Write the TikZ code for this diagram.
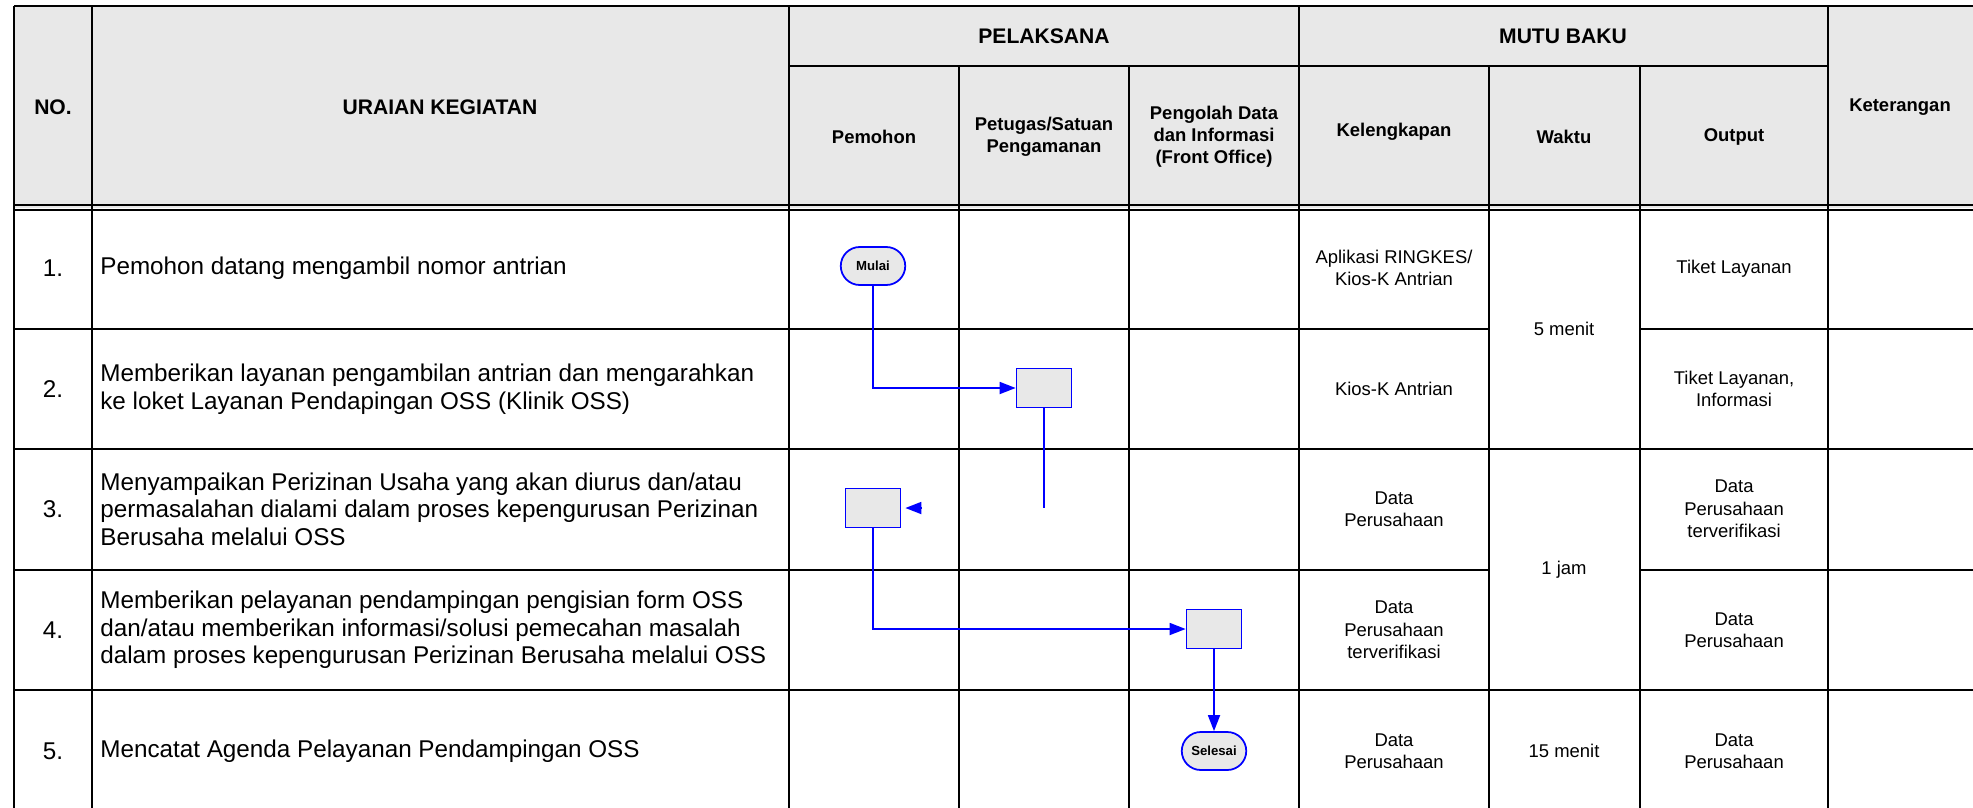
\documentclass[tikz,border=0pt]{standalone}
\usepackage{fontspec}
\setmainfont{Liberation Sans}
\usetikzlibrary{arrows.meta,shapes.misc}

\definecolor{hdrgray}{HTML}{E8E8E8}
\definecolor{flowblue}{HTML}{0000FF}

\tikzset{
  grid/.style={line width=1.2pt},
  hdrbig/.style={font=\bfseries\fontsize{12}{14}\selectfont, align=center},
  hdrsub/.style={font=\bfseries\fontsize{10.5}{12.5}\selectfont, align=center},
  cell/.style={font=\fontsize{10.5}{12.8}\selectfont, align=center},
  uraian/.style={font=\fontsize{13.8}{15.7}\selectfont, align=left, anchor=west, inner xsep=0pt},
  nomor/.style={font=\fontsize{13.8}{15.7}\selectfont},
  proc/.style={draw=flowblue, fill=hdrgray, line width=1pt, minimum width=11mm, minimum height=7.8mm},
  term/.style={draw=flowblue, fill=hdrgray, line width=1pt, rounded rectangle,
    minimum width=13.6mm, minimum height=7.6mm, inner sep=1pt, font=\bfseries\fontsize{7.5}{8.5}\selectfont},
  flow/.style={draw=flowblue, line width=1pt},
  arr/.style={flow, -{Triangle[length=3.2mm,width=2.4mm]}},
}

\begin{document}
\begin{tikzpicture}[x=0.2mm,y=-0.2mm]
  \useasboundingbox (0,0) rectangle (1973,808);

  % Header background
  \fill[hdrgray] (14,6) rectangle (1973,208);

  % Horizontal lines
  \draw[grid] (14,6) -- (1973,6);
  \draw[grid] (789,66) -- (1828,66);
  \draw[grid, line width=0.8pt] (14,205) -- (1973,205);
  \draw[grid, line width=0.8pt] (14,210) -- (1973,210);
  \foreach \y in {449,690} {
    \draw[grid] (14,\y) -- (1973,\y);
  }
  % Waktu cells span two rows
  \foreach \y in {329,570} {
    \draw[grid] (14,\y) -- (1489,\y);
    \draw[grid] (1640,\y) -- (1973,\y);
  }

  % Vertical lines
  \foreach \x in {14,92,789,1299,1828} {
    \draw[grid] (\x,6) -- (\x,808);
  }
  \foreach \x in {959,1129,1489,1640} {
    \draw[grid] (\x,66) -- (\x,808);
  }

  % Header texts
  \node[hdrbig] (hno) at (53,107) {NO.};
  \node[hdrbig] (huraian) at (440,107) {URAIAN KEGIATAN};
  \node[hdrbig] (hpelaksana) at (1044,36) {PELAKSANA};
  \node[hdrbig] (hmutu) at (1563,36) {MUTU BAKU};
  \node[hdrsub] (hpemohon) at (874,137) {Pemohon};
  \node[hdrsub] (hpetugas) at (1044,137) {Petugas/Satuan\\Pengamanan};
  \node[hdrsub] (hpengolah) at (1214,137) {Pengolah Data\\dan Informasi\\(Front Office)};
  \node[hdrsub] (hkelengkapan) at (1394,132) {Kelengkapan};
  \node[hdrsub] (hwaktu) at (1564,137) {Waktu};
  \node[hdrsub] (houtput) at (1734,137) {Output};
  \node[hdrsub] (hket) at (1900,107) {Keterangan};

  % Row numbers
  \foreach \n/\y in {1/268,2/389,3/509,4/630,5/751} {
    \node[nomor] (no\n) at (53,\y) {\n.};
  }

  % Uraian kegiatan
  \node[uraian] (ur1) at (100,268) {Pemohon datang mengambil nomor antrian};
  \node[uraian] (ur2) at (100,389) {Memberikan layanan pengambilan antrian dan mengarahkan\\ke loket Layanan Pendapingan OSS (Klinik OSS)};
  \node[uraian] (ur3) at (100,509) {Menyampaikan Perizinan Usaha yang akan diurus dan/atau\\permasalahan dialami dalam proses kepengurusan Perizinan\\Berusaha melalui OSS};
  \node[uraian] (ur4) at (100,630) {Memberikan pelayanan pendampingan pengisian form OSS\\dan/atau memberikan informasi/solusi pemecahan masalah\\dalam proses kepengurusan Perizinan Berusaha melalui OSS};
  \node[uraian] (ur5) at (100,751) {Mencatat Agenda Pelayanan Pendampingan OSS};

  % Kelengkapan
  \node[cell] (kel1) at (1394,268) {Aplikasi RINGKES/\\Kios-K Antrian};
  \node[cell] (kel2) at (1394,389) {Kios-K Antrian};
  \node[cell] (kel3) at (1394,509) {Data\\Perusahaan};
  \node[cell] (kel4) at (1394,630) {Data\\Perusahaan\\terverifikasi};
  \node[cell] (kel5) at (1394,751) {Data\\Perusahaan};

  % Waktu
  \node[cell] (wkt12) at (1564,329) {5 menit};
  \node[cell] (wkt34) at (1564,570) {1 jam};
  \node[cell] (wkt5) at (1564,751) {15 menit};

  % Output
  \node[cell] (out1) at (1734,269) {Tiket Layanan};
  \node[cell] (out2) at (1734,389) {Tiket Layanan,\\Informasi};
  \node[cell] (out3) at (1734,509) {Data\\Perusahaan\\terverifikasi};
  \node[cell] (out4) at (1734,630) {Data\\Perusahaan};
  \node[cell] (out5) at (1734,751) {Data\\Perusahaan};

  % Flowchart
  \node[term] (mulai) at (873,266) {Mulai};
  \node[proc] (proc2) at (1044,388) {};
  \node[proc] (proc3) at (873,508) {};
  \node[proc] (proc4) at (1214,629) {};
  \node[term] (selesai) at (1214,751) {Selesai};
  \coordinate (hang) at (1044,508);
  \coordinate (tipbase) at (922,508);

  \draw[arr] (mulai.south) |- (proc2.west);
  \draw[flow] (proc2.south) -- (hang);
  \draw[arr, shorten >=0.8mm] (tipbase) -- (proc3.east);
  \draw[arr] (proc3.south) |- (proc4.west);
  \draw[arr] (proc4.south) -- (selesai.north);
\end{tikzpicture}
\end{document}
